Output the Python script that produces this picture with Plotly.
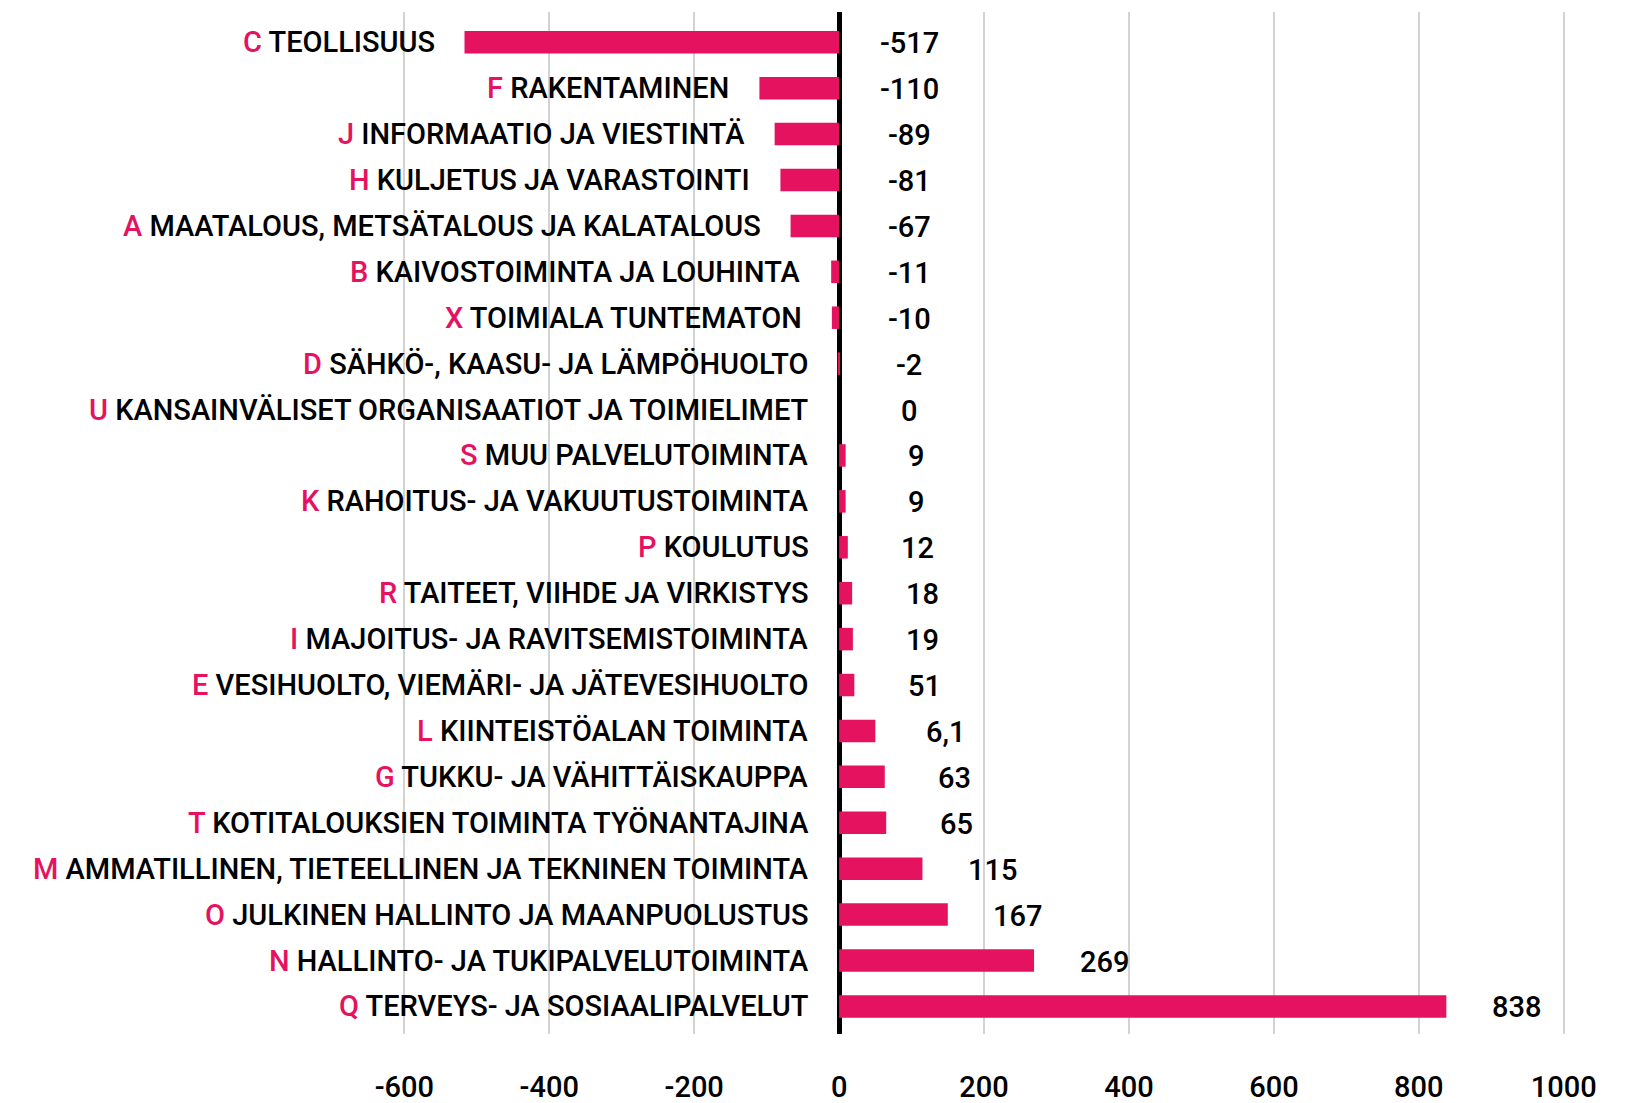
import plotly.graph_objects as go

# toimialakoodit, nimet, palkkien arvot ja näytettävät arvotekstit
codes = ["C", "F", "J", "H", "A", "B", "X", "D", "U", "S", "K",
         "P", "R", "I", "E", "L", "G", "T", "M", "O", "N", "Q"]
names = [
    "TEOLLISUUS",
    "RAKENTAMINEN",
    "INFORMAATIO JA VIESTINTÄ",
    "KULJETUS JA VARASTOINTI",
    "MAATALOUS, METSÄTALOUS JA KALATALOUS",
    "KAIVOSTOIMINTA JA LOUHINTA",
    "TOIMIALA TUNTEMATON",
    "SÄHKÖ-, KAASU- JA LÄMPÖHUOLTO",
    "KANSAINVÄLISET ORGANISAATIOT JA TOIMIELIMET",
    "MUU PALVELUTOIMINTA",
    "RAHOITUS- JA VAKUUTUSTOIMINTA",
    "KOULUTUS",
    "TAITEET, VIIHDE JA VIRKISTYS",
    "MAJOITUS- JA RAVITSEMISTOIMINTA",
    "VESIHUOLTO, VIEMÄRI- JA JÄTEVESIHUOLTO",
    "KIINTEISTÖALAN TOIMINTA",
    "TUKKU- JA VÄHITTÄISKAUPPA",
    "KOTITALOUKSIEN TOIMINTA TYÖNANTAJINA",
    "AMMATILLINEN, TIETEELLINEN JA TEKNINEN TOIMINTA",
    "JULKINEN HALLINTO JA MAANPUOLUSTUS",
    "HALLINTO- JA TUKIPALVELUTOIMINTA",
    "TERVEYS- JA SOSIAALIPALVELUT",
]
values = [-517, -110, -89, -81, -67, -11, -10, -2, 0, 9, 9,
          12, 18, 19, 21, 50, 63, 65, 115, 150, 269, 838]
value_labels = ["-517", "-110", "-89", "-81", "-67", "-11", "-10", "-2", "0", "9", "9",
                "12", "18", "19", "51", "6,1", "63", "65", "115", "167", "269", "838"]
x_ticks = [-600, -400, -200, 0, 200, 400, 600, 800, 1000]
x_tick_text = ["-600", "-400", "-200", "0", "200", "400", "600", "800", "1000"]

PINK = "#E5135F"
FONT = "Roboto"
SIZE = 29

rows = list(range(len(codes)))

fig = go.Figure(go.Bar(
    x=values, y=rows, orientation="h",
    marker=dict(color=PINK, line=dict(width=0)),
    width=0.49, hoverinfo="skip",
))

for i, (c, n, v, lab) in enumerate(zip(codes, names, values, value_labels)):
    fig.add_annotation(
        x=min(v, 0), y=i, xref="x", yref="y",
        text=f'<span style="color:{PINK}">{c}</span> {n}',
        xanchor="right", yanchor="middle", xshift=-28, showarrow=False,
        font=dict(family=FONT, size=SIZE, color="black", weight=500),
    )
    fig.add_annotation(
        x=max(v, 0), y=i, xref="x", yref="y",
        text=lab, xanchor="center", yanchor="middle", xshift=70, yshift=-1,
        showarrow=False,
        font=dict(family=FONT, size=SIZE, color="black", weight=500),
    )

# sivun body-marginaali (8 px) huomioitu koossa
fig.update_layout(
    width=1635, height=1095,
    margin=dict(l=0, r=30, t=4, b=69),
    plot_bgcolor="white", paper_bgcolor="white",
    showlegend=False,
    font=dict(family=FONT, size=SIZE, color="black"),
    xaxis=dict(
        range=[-1147, 1068], tickvals=x_ticks, ticktext=x_tick_text,
        showgrid=True, gridcolor="#d3d3d3", gridwidth=2,
        zeroline=True, zerolinecolor="black", zerolinewidth=5,
        ticks="outside", ticklen=27, tickcolor="rgba(0,0,0,0)",
        tickfont=dict(family=FONT, size=SIZE, color="black", weight=500),
        showline=False, automargin=False,
    ),
    yaxis=dict(
        range=[21.6, -0.658], showticklabels=False, showgrid=False,
        zeroline=False, showline=False, automargin=False,
    ),
)

fig.write_html("out.html")
